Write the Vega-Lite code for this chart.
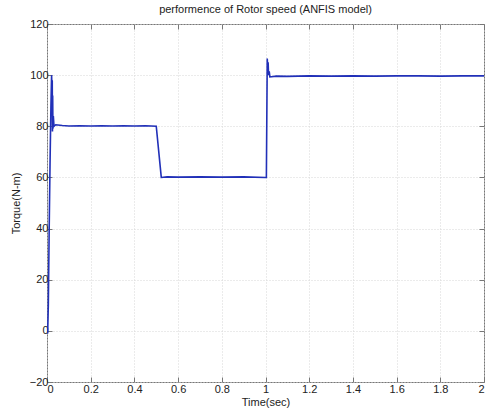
{
  "$schema": "https://vega.github.io/schema/vega-lite/v6.json",
  "width": 437,
  "height": 358,
  "autosize": {"type": "none"},
  "padding": {"left": 47, "top": 24, "right": 1, "bottom": 30},
  "background": "white",
  "title": {"text": "performence of Rotor speed (ANFIS model)", "fontSize": 11, "font": "Liberation Sans", "fontWeight": "normal", "color": "#222", "offset": 3},
  "config": {
    "view": {"stroke": "#777", "strokeWidth": 1},
    "axis": {"labelFont": "Liberation Sans", "titleFont": "Liberation Sans", "labelFontSize": 11, "titleFontSize": 11, "titleFontWeight": "normal", "labelColor": "#222", "titleColor": "#222", "domainColor": "#777", "tickColor": "#777", "gridColor": "#d6d6d6", "gridDash": [1, 2], "gridOpacity": 1}
  },
  "data": {"values": [
    {"t": 0, "v": 0},
    {"t": 0.003, "v": -1},
    {"t": 0.006, "v": 10},
    {"t": 0.01, "v": 40},
    {"t": 0.014, "v": 66},
    {"t": 0.018, "v": 88},
    {"t": 0.021, "v": 100},
    {"t": 0.022, "v": 97},
    {"t": 0.023, "v": 84},
    {"t": 0.024, "v": 98},
    {"t": 0.025, "v": 78},
    {"t": 0.026, "v": 92},
    {"t": 0.027, "v": 79},
    {"t": 0.029, "v": 84},
    {"t": 0.032, "v": 80},
    {"t": 0.04, "v": 80.6},
    {"t": 0.07, "v": 80.3},
    {"t": 0.1, "v": 80.1},
    {"t": 0.15, "v": 80.2},
    {"t": 0.2, "v": 80.1},
    {"t": 0.25, "v": 80.2},
    {"t": 0.3, "v": 80.1},
    {"t": 0.35, "v": 80.2},
    {"t": 0.4, "v": 80.1},
    {"t": 0.45, "v": 80.2},
    {"t": 0.5, "v": 80},
    {"t": 0.523, "v": 60},
    {"t": 0.55, "v": 60.2},
    {"t": 0.6, "v": 60.1},
    {"t": 0.7, "v": 60.2},
    {"t": 0.8, "v": 60.1},
    {"t": 0.9, "v": 60.2},
    {"t": 1.0, "v": 60},
    {"t": 1.004, "v": 60},
    {"t": 1.008, "v": 106.5},
    {"t": 1.01, "v": 103},
    {"t": 1.012, "v": 105},
    {"t": 1.014, "v": 100},
    {"t": 1.017, "v": 101.5},
    {"t": 1.02, "v": 99.3},
    {"t": 1.05, "v": 99.6},
    {"t": 1.1, "v": 99.5},
    {"t": 1.2, "v": 99.7},
    {"t": 1.3, "v": 99.6},
    {"t": 1.4, "v": 99.7},
    {"t": 1.5, "v": 99.6},
    {"t": 1.6, "v": 99.7},
    {"t": 1.7, "v": 99.7},
    {"t": 1.8, "v": 99.6},
    {"t": 1.9, "v": 99.7},
    {"t": 2.0, "v": 99.7}
  ]},
  "layer": [
    {
      "mark": {"type": "line", "color": "#2130b8", "strokeWidth": 1.6, "clip": true},
      "encoding": {
        "x": {"field": "t", "type": "quantitative", "scale": {"domain": [0, 2], "nice": false}, "axis": {"title": "Time(sec)", "values": [0, 0.2, 0.4, 0.6, 0.8, 1, 1.2, 1.4, 1.6, 1.8, 2], "format": "~g", "tickSize": -5, "labelPadding": 6, "titlePadding": 2, "domain": false, "grid": true}},
        "y": {"field": "v", "type": "quantitative", "scale": {"domain": [-20, 120], "nice": false}, "axis": {"title": "Torque(N-m)", "values": [-20, 0, 20, 40, 60, 80, 100, 120], "tickSize": -5, "labelPadding": 4, "titlePadding": 8, "domain": false, "grid": true}}
      }
    },
    {
      "mark": {"type": "line", "opacity": 0},
      "encoding": {
        "x": {"field": "t", "type": "quantitative", "axis": {"orient": "top", "title": null, "labels": false, "values": [0, 0.2, 0.4, 0.6, 0.8, 1, 1.2, 1.4, 1.6, 1.8, 2], "tickSize": -5, "domain": false, "grid": false}},
        "y": {"field": "v", "type": "quantitative", "axis": {"orient": "right", "title": null, "labels": false, "values": [-20, 0, 20, 40, 60, 80, 100, 120], "tickSize": -5, "domain": false, "grid": false}}
      }
    }
  ],
  "resolve": {"axis": {"x": "independent", "y": "independent"}}
}
